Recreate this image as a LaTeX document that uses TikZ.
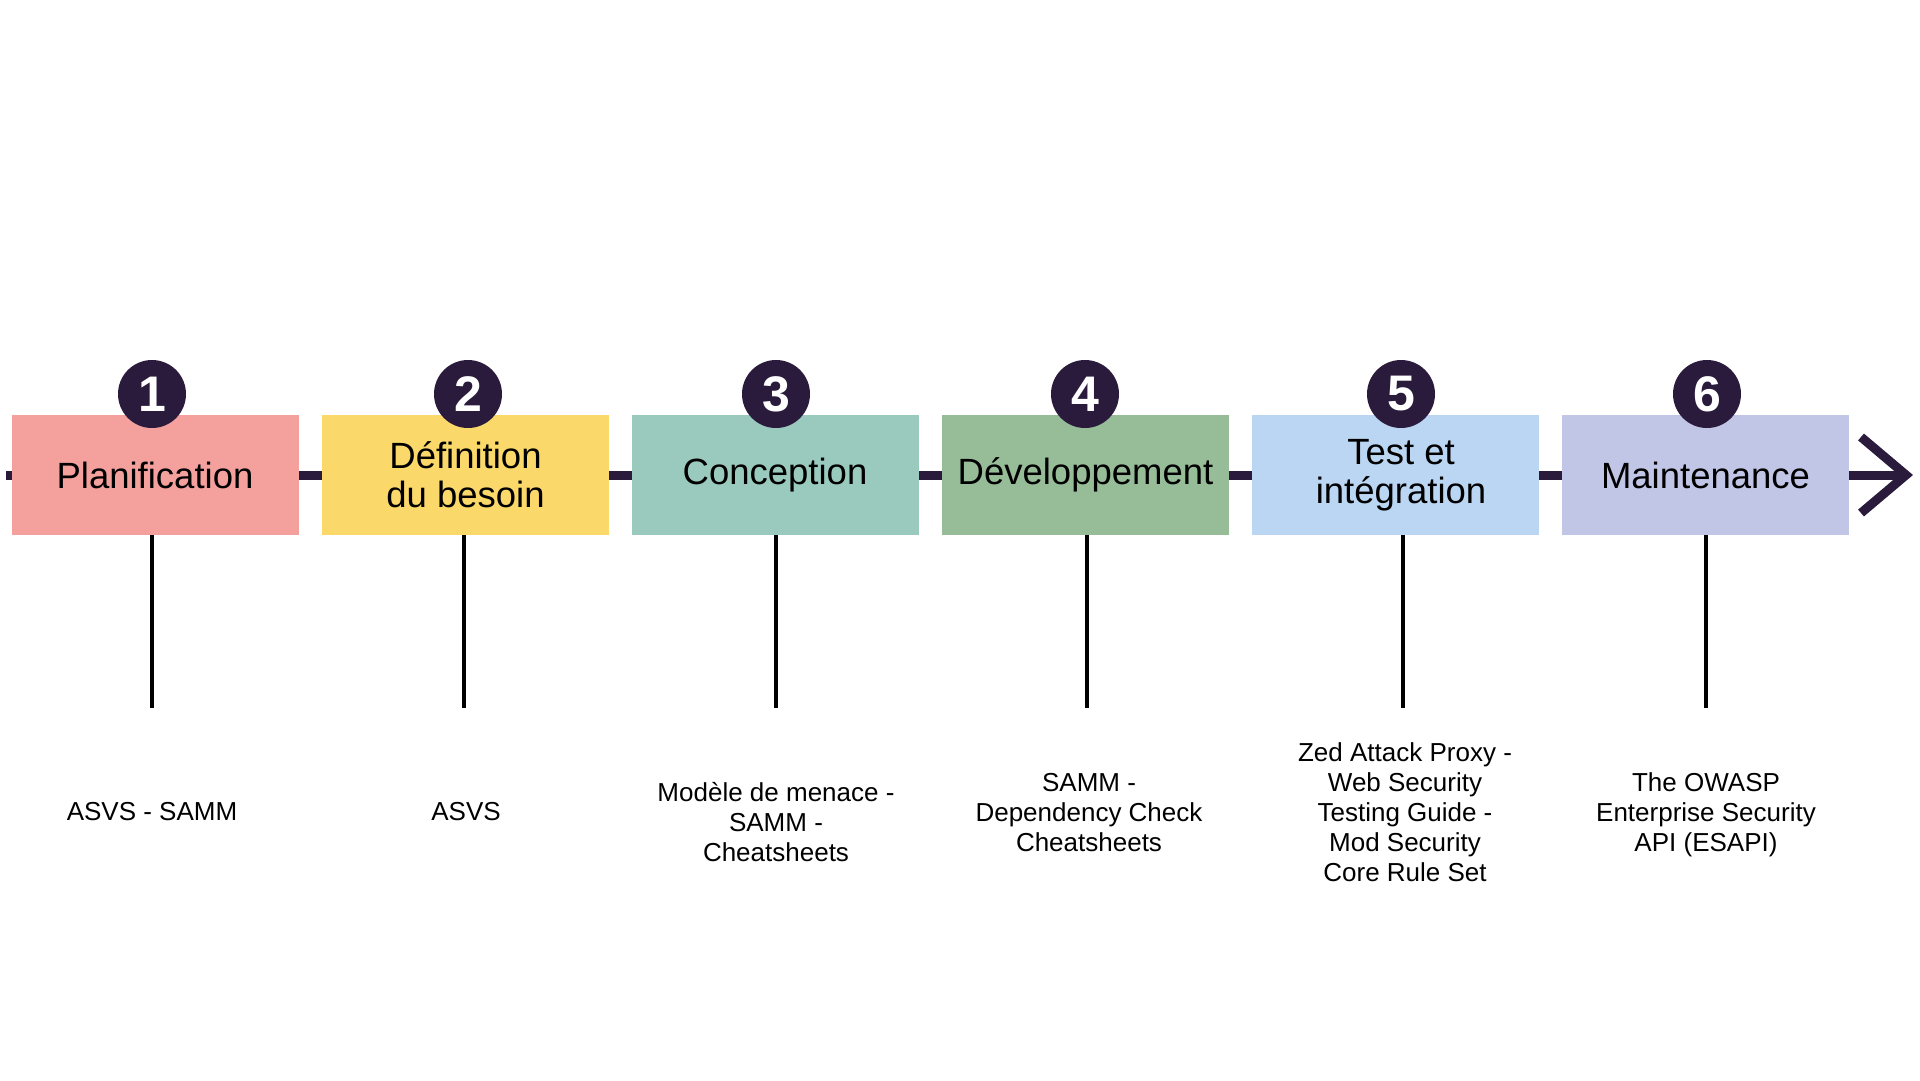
\documentclass[tikz,border=0pt]{standalone}
\usepackage{fontspec}
\setmainfont{Liberation Sans}
\definecolor{ink}{HTML}{2A1B3D}
\definecolor{cA}{HTML}{F4A19E}
\definecolor{cB}{HTML}{FBD86A}
\definecolor{cC}{HTML}{9AC9BE}
\definecolor{cD}{HTML}{97BC98}
\definecolor{cE}{HTML}{BAD6F2}
\definecolor{cF}{HTML}{C2C6E6}
\begin{document}
\begin{tikzpicture}[x=1pt,y=-1pt,
  box/.style={minimum width=287pt, minimum height=120pt, inner sep=0pt, align=center,
    font=\fontsize{36.5}{39}\selectfont, text=black},
  num/.style={circle, fill=ink, minimum size=68pt, inner sep=0pt, text=white,
    font=\fontsize{50}{50}\selectfont\bfseries},
  tool/.style={align=center, font=\fontsize{26}{30}\selectfont, text=black},
  stem/.style={line width=4pt, draw=black},
  axis/.style={line width=9pt, draw=ink}]
\useasboundingbox[fill=white] (0,0) rectangle (1920,1080);
% axis
\coordinate (a0) at (6,475);
\coordinate (a1) at (1906,475);
\coordinate (h1) at (1861,437);
\coordinate (h2) at (1861,513);
\draw[axis] (a0) -- (a1);
\draw[axis, line join=miter] (h1) -- (a1) -- (h2);
% boxes
\node[box, fill=cA] (b1) at (155,475) {Planification};
\node[box, fill=cB] (b2) at (465.5,475) {Définition\\du besoin};
\node[box, fill=cC] (b3) at (775,475) {Conception};
\node[box, fill=cD] (b4) at (1085.5,475) {Développement};
\node[box, fill=cE] (b5) at (1395.5,475) {};
\node[box, anchor=center] (l5) at (1401,475) {Test et\\intégration};
\node[box, fill=cF] (b6) at (1705.5,475) {Maintenance};
% numbers
\node[num] (n1) at (152,394) {1};
\node[num] (n2) at (468,394) {2};
\node[num] (n3) at (776,394) {3};
\node[num] (n4) at (1085,394) {4};
\node[num] (n5) at (1401,394) {5};
\node[num] (n6) at (1707,394) {6};
% stems
\coordinate (e1) at (152,708);
\coordinate (e2) at (464,708);
\coordinate (e3) at (776,708);
\coordinate (e4) at (1087,708);
\coordinate (e5) at (1403,708);
\coordinate (e6) at (1706,708);
\draw[stem] (e1 |- b1.south) -- (e1);
\draw[stem] (e2 |- b2.south) -- (e2);
\draw[stem] (e3 |- b3.south) -- (e3);
\draw[stem] (e4 |- b4.south) -- (e4);
\draw[stem] (e5 |- b5.south) -- (e5);
\draw[stem] (e6 |- b6.south) -- (e6);
% tools
\node[tool] (t1) at (152,812) {ASVS - SAMM};
\node[tool] (t2) at (466,812) {ASVS};
\node[tool] (t3) at (776,822) {Modèle de menace -\\SAMM -\\Cheatsheets};
\node[tool] (t4) at (1089,813) {SAMM -\\Dependency Check\\Cheatsheets};
\node[tool] (t5) at (1405,812) {Zed Attack Proxy -\\Web Security\\Testing Guide -\\Mod Security\\Core Rule Set};
\node[tool] (t6) at (1706,815) {The OWASP\\Enterprise Security\\API (ESAPI)};
\end{tikzpicture}
\end{document}
